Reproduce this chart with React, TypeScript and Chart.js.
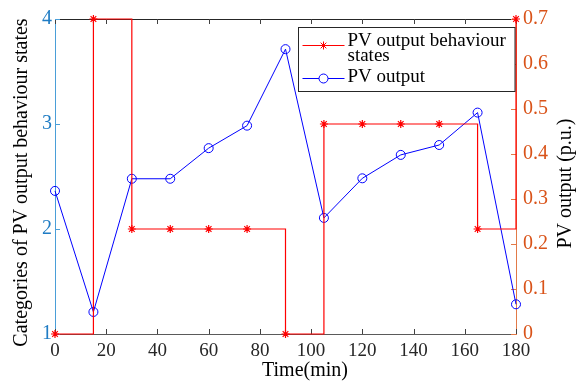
import React, { useEffect, useRef } from "react";
import { Chart, registerables } from "chart.js";

Chart.register(...registerables);

// Sampling instants (minutes)
const timeMin = [0, 15, 30, 45, 60, 75, 90, 105, 120, 135, 150, 165, 180];
// Behaviour state category at each instant (left axis)
const behaviourStates = [1, 4, 2, 2, 2, 2, 1, 3, 3, 3, 3, 2, 4];
// PV output in per-unit (right axis)
const pvOutput = [0.318, 0.049, 0.345, 0.345, 0.413, 0.463, 0.633, 0.258, 0.346, 0.398, 0.42, 0.492, 0.066];

const xTitle = "Time(min)";
const leftTitle = "Categories of PV output behaviour states";
const rightTitle = "PV output (p.u.)";
const legendStates = ["PV output behaviour", "states"];
const legendOutput = "PV output";

const SERIF = "Liberation Serif";
const LEFT_COLOR = "#1f7cc4";
const LEFT_LINE = "#4a9ed8";
const RIGHT_COLOR = "#D95319";
const RIGHT_LINE = "#e27a48";
const RED = "#ff0000";
const BLUE = "#0000ff";

Chart.defaults.font.family = SERIF;

const axesDecor = {
  id: "axesDecor",
  beforeDatasetsDraw(chart: any) {
    const { ctx, chartArea, scales } = chart;
    const { left, right, top, bottom } = chartArea;
    ctx.save();
    ctx.lineWidth = 1;
    // top box edge
    ctx.strokeStyle = "#262626";
    ctx.beginPath();
    ctx.moveTo(left, top + 0.5);
    ctx.lineTo(right, top + 0.5);
    ctx.stroke();
    // inward x ticks on bottom and top
    ctx.strokeStyle = "#404040";
    scales.x.ticks.forEach((t: any) => {
      const px = Math.round(scales.x.getPixelForValue(t.value)) + 0.5;
      ctx.beginPath();
      ctx.moveTo(px, bottom);
      ctx.lineTo(px, bottom - 5);
      ctx.moveTo(px, top);
      ctx.lineTo(px, top + 5);
      ctx.stroke();
    });
    // left ticks
    ctx.strokeStyle = LEFT_LINE;
    scales.y.ticks.forEach((t: any) => {
      const py = Math.round(scales.y.getPixelForValue(t.value)) + 0.5;
      ctx.beginPath();
      ctx.moveTo(left, py);
      ctx.lineTo(left + 5, py);
      ctx.stroke();
    });
    // right ticks
    ctx.strokeStyle = RIGHT_LINE;
    scales.y1.ticks.forEach((t: any) => {
      const py = Math.round(scales.y1.getPixelForValue(t.value)) + 0.5;
      ctx.beginPath();
      ctx.moveTo(right, py);
      ctx.lineTo(right - 5, py);
      ctx.stroke();
    });
    ctx.restore();
  },
  afterDraw(chart: any) {
    const { ctx, chartArea } = chart;
    const { right, top, bottom } = chartArea;
    const midY = (top + bottom) / 2;
    ctx.save();
    ctx.fillStyle = "#000";
    ctx.font = `20px "${SERIF}"`;
    ctx.textAlign = "center";
    ctx.textBaseline = "middle";
    // axis titles
    ctx.fillText(xTitle, 305, 371);
    ctx.save();
    ctx.translate(22, midY + 6);
    ctx.rotate(-Math.PI / 2);
    ctx.fillText(leftTitle, 0, 0);
    ctx.restore();
    ctx.save();
    ctx.translate(566, midY + 7);
    ctx.rotate(-Math.PI / 2);
    ctx.fillText(rightTitle, 0, 0);
    ctx.restore();

    // legend box
    const bx = 298.5, by = 27.5, bw = right - 1 - bx, bh = 64;
    ctx.fillStyle = "#fff";
    ctx.fillRect(bx, by, bw, bh);
    ctx.strokeStyle = "#262626";
    ctx.lineWidth = 1;
    ctx.strokeRect(bx, by, bw, bh);

    const lx0 = bx + 4, lx1 = bx + 46, lmid = (lx0 + lx1) / 2;
    // states entry
    const y1 = by + 18;
    ctx.strokeStyle = RED;
    ctx.beginPath();
    ctx.moveTo(lx0, y1);
    ctx.lineTo(lx1, y1);
    ctx.stroke();
    const r = 4;
    ctx.beginPath();
    for (let k = 0; k < 4; k++) {
      const a = (k * Math.PI) / 4;
      ctx.moveTo(lmid - r * Math.cos(a), y1 - r * Math.sin(a));
      ctx.lineTo(lmid + r * Math.cos(a), y1 + r * Math.sin(a));
    }
    ctx.stroke();
    // output entry
    const y2 = by + 51;
    ctx.strokeStyle = BLUE;
    ctx.beginPath();
    ctx.moveTo(lx0, y2);
    ctx.lineTo(lmid - 4.5, y2);
    ctx.moveTo(lmid + 4.5, y2);
    ctx.lineTo(lx1, y2);
    ctx.stroke();
    ctx.beginPath();
    ctx.arc(lmid, y2, 4.5, 0, Math.PI * 2);
    ctx.stroke();

    ctx.fillStyle = "#000";
    ctx.font = `19px "${SERIF}"`;
    ctx.textAlign = "left";
    ctx.textBaseline = "middle";
    ctx.fillText(legendStates[0], lx1 + 3, by + 14);
    ctx.fillText(legendStates[1], lx1 + 3, by + 29);
    ctx.fillText(legendOutput, lx1 + 3, y2 - 1);
    ctx.restore();
  },
};

export default function App() {
  const canvasRef = useRef<HTMLCanvasElement | null>(null);

  useEffect(() => {
    if (!canvasRef.current) return;
    const chart = new Chart(canvasRef.current, {
      type: "line",
      data: {
        datasets: [
          {
            label: "PV output behaviour states",
            data: timeMin.map((t, i) => ({ x: t, y: behaviourStates[i] })),
            yAxisID: "y",
            stepped: "before",
            borderColor: RED,
            borderWidth: 1.2,
            pointStyle: "star",
            pointRadius: 4,
            pointBorderColor: RED,
            pointBorderWidth: 1.2,
            pointBackgroundColor: RED,
            clip: 6,
          },
          {
            label: "PV output",
            data: timeMin.map((t, i) => ({ x: t, y: pvOutput[i] })),
            yAxisID: "y1",
            borderColor: BLUE,
            borderWidth: 1,
            tension: 0,
            pointStyle: "circle",
            pointRadius: 4.5,
            pointBorderColor: BLUE,
            pointBorderWidth: 1,
            pointBackgroundColor: "rgba(0,0,0,0)",
            clip: 6,
          },
        ],
      },
      options: {
        animation: false,
        responsive: false,
        devicePixelRatio: 1,
        font: { family: SERIF },
        layout: { padding: { top: 12, left: 0, right: 0, bottom: 0 } },
        plugins: { legend: { display: false }, tooltip: { enabled: false } },
        scales: {
          x: {
            type: "linear",
            min: 0,
            max: 180,
            grid: { display: false, drawTicks: false },
            border: { display: true, color: "#5a5a5a" },
            ticks: {
              stepSize: 20,
              font: { family: SERIF, size: 19 },
              color: "#262626",
              padding: 6,
              maxRotation: 0,
              autoSkip: false,
            },
            afterFit: (s: any) => { s.height = 54; },
          },
          y: {
            type: "linear",
            position: "left",
            min: 1,
            max: 4,
            grid: { display: false, drawTicks: false },
            border: { display: true, color: LEFT_LINE },
            ticks: { stepSize: 1, font: { family: SERIF, size: 20 }, color: LEFT_COLOR, padding: 3 },
            afterFit: (s: any) => { s.width = 55; },
          },
          y1: {
            type: "linear",
            position: "right",
            min: 0,
            max: 0.7,
            grid: { display: false, drawTicks: false },
            border: { display: true, color: RIGHT_LINE },
            ticks: {
              stepSize: 0.1,
              font: { family: SERIF, size: 20 },
              color: RIGHT_COLOR,
              padding: 7,
              callback: (v: any) => String(Math.round(Number(v) * 10) / 10),
            },
            afterFit: (s: any) => { s.width = 71; },
          },
        },
      },
      plugins: [axesDecor],
    });
    return () => chart.destroy();
  }, []);

  return (
    <div style={{ position: "fixed", left: 0, top: 0, width: 587, height: 388, background: "#fff" }}>
      <canvas ref={canvasRef} width={587} height={388} />
    </div>
  );
}
